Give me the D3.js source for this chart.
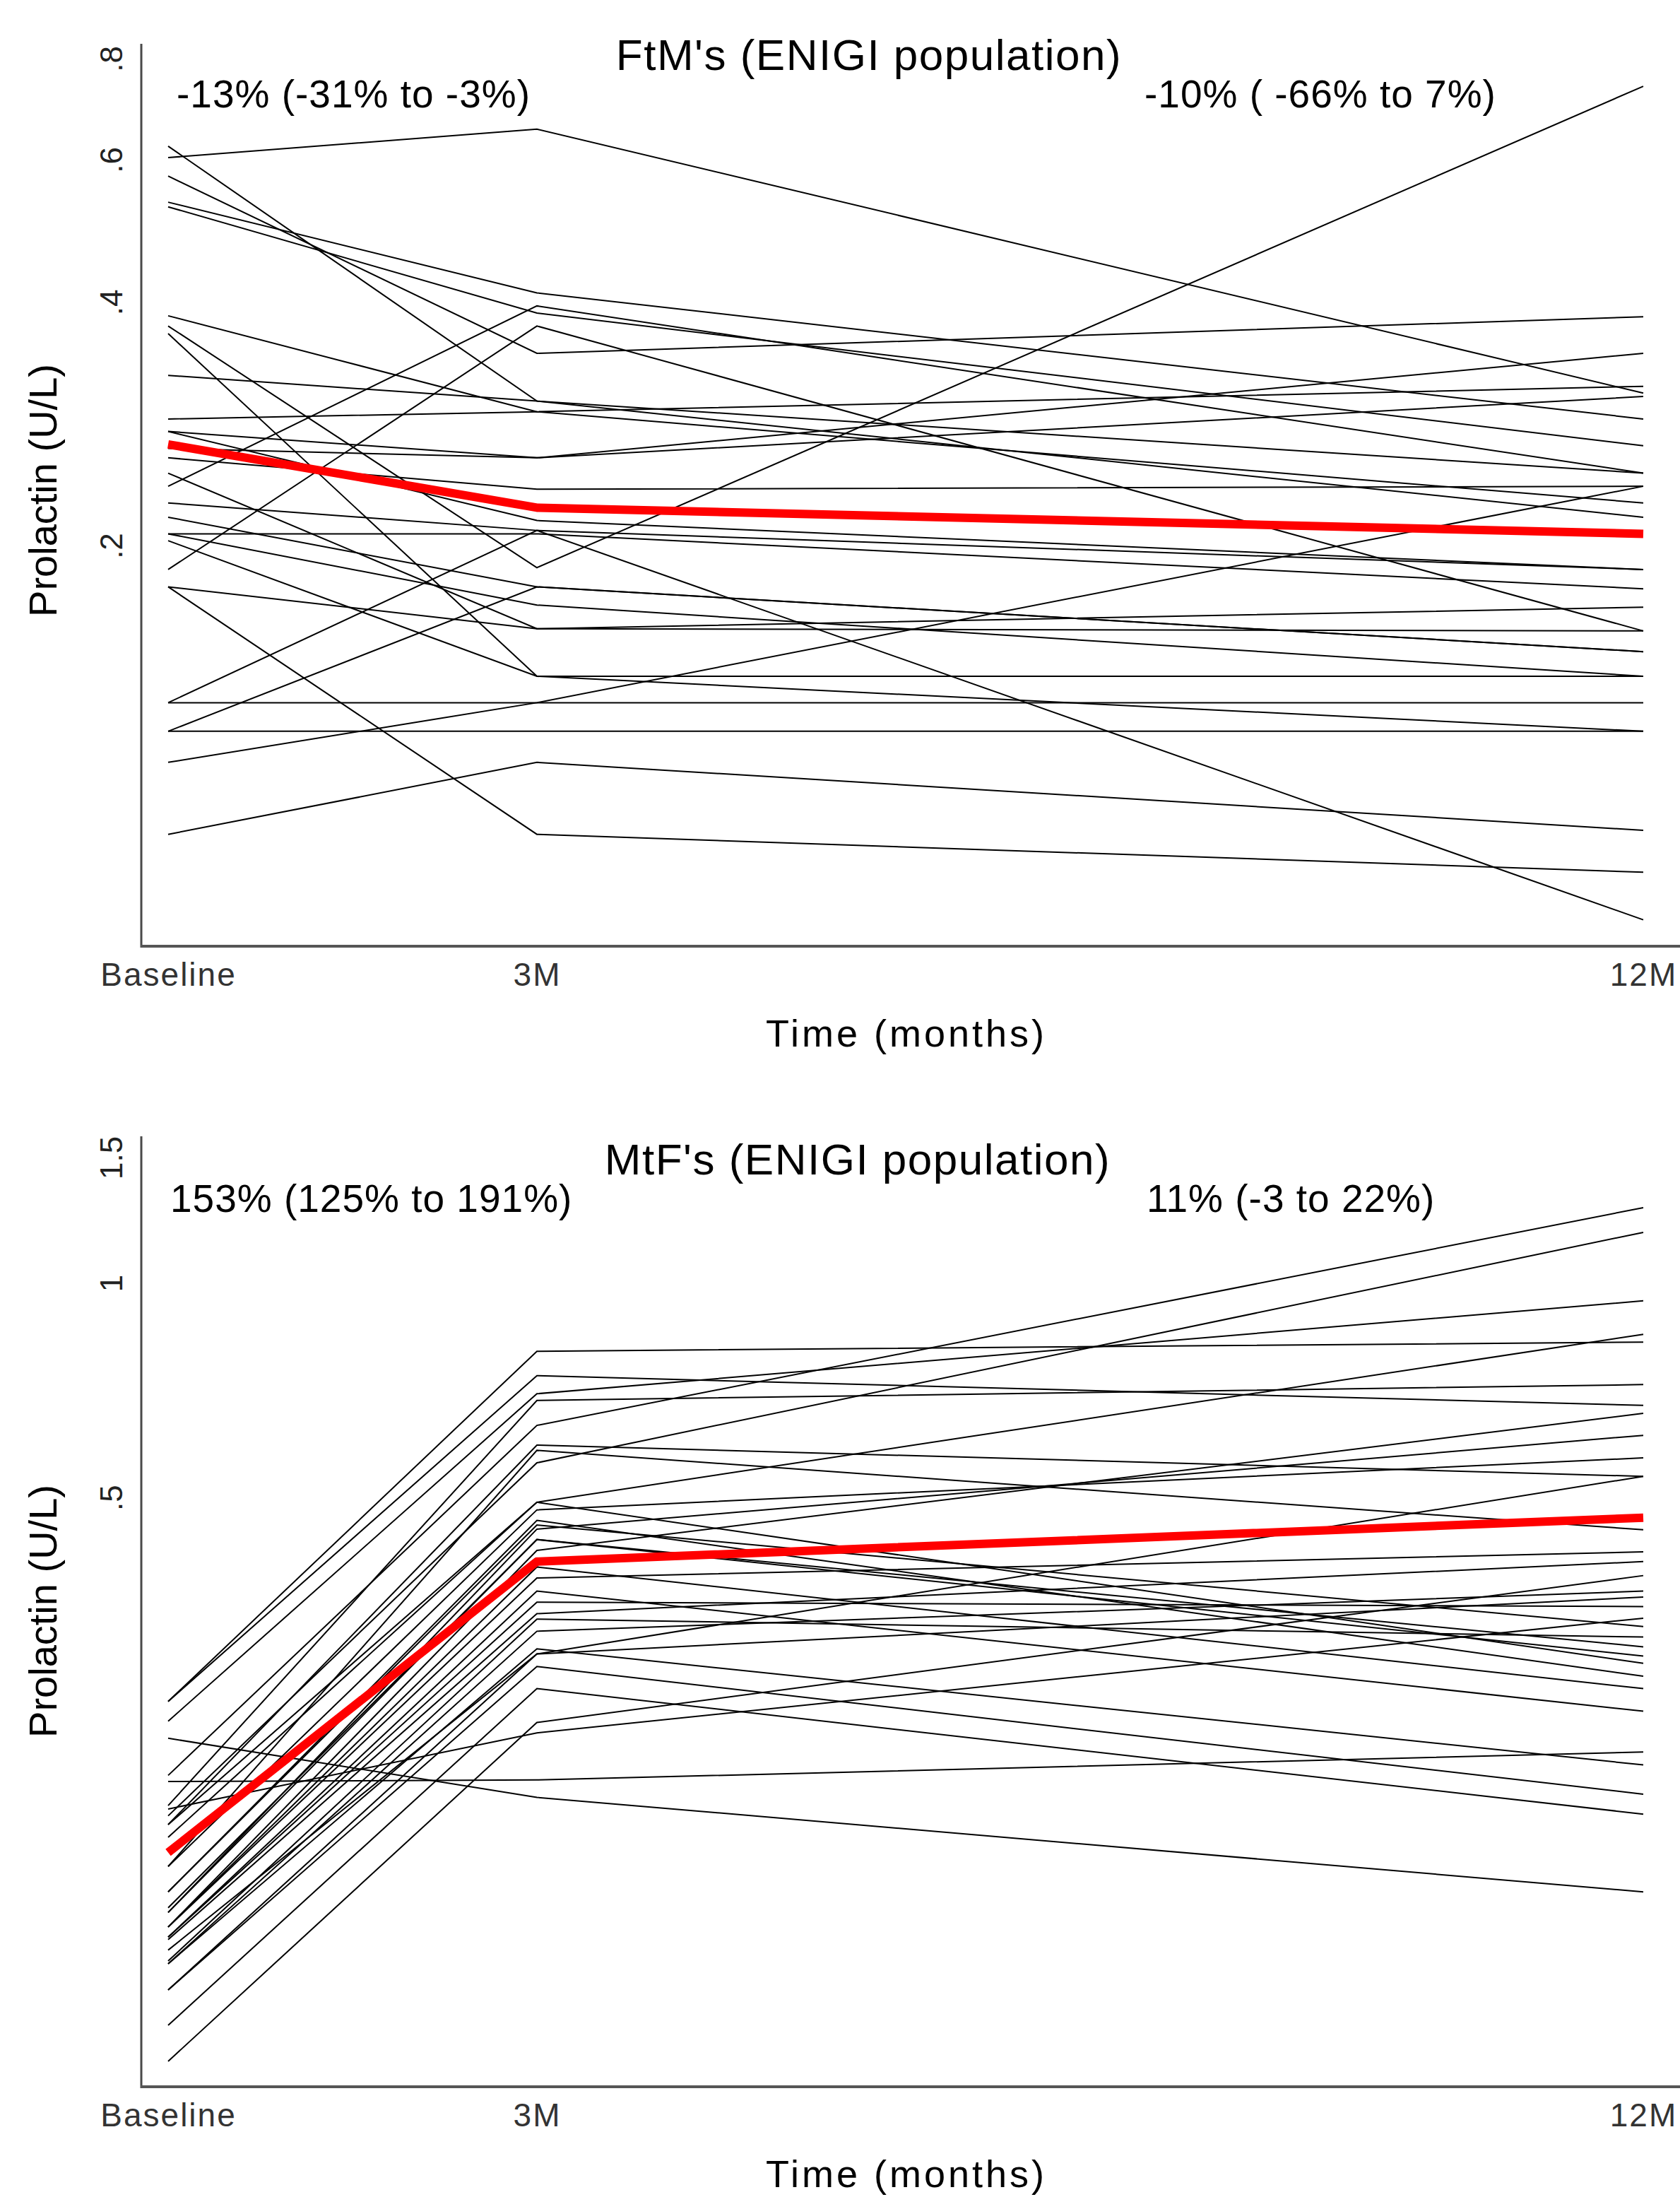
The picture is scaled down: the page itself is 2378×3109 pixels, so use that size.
<!DOCTYPE html>
<html>
<head>
<meta charset="utf-8">
<script src="https://cdn.jsdelivr.net/npm/d3@7"></script>
<style>
  body { margin: 0; background: #fff; }
  svg { display: block; font-family: "Liberation Sans", Arial, sans-serif; }
</style>
</head>
<body>
<svg id="chart" width="2378" height="3109"></svg>
<script>
// visit times (months) and their labels
var months = [0, 3, 12]
var xLabels = ["Baseline", "3M", "12M"]

// FtM's: prolactin per subject at baseline, 3M, 12M
var ftmBaseline = [0.604, 0.624, 0.573, 0.532, 0.525, 0.385, 0.374, 0.366, 0.325, 0.287, 0.277, 0.264, 0.257, 0.246, 0.237,
                   0.187, 0.226, 0.217, 0.207, 0.207, 0.203, 0.178, 0.178, 0.128, 0.128, 0.118, 0.118, 0.108, 0.088, 0.277]
var ftm3M       = [0.655, 0.302, 0.346, 0.411, 0.388, 0.293, 0.188, 0.138, 0.302, 0.293, 0.215, 0.257, 0.235, 0.158, 0.396,
                   0.374, 0.209, 0.178, 0.207, 0.169, 0.138, 0.088, 0.158, 0.209, 0.128, 0.178, 0.118, 0.128, 0.108, 0.257]
var ftm12M      = [0.309, 0.217, 0.384, 0.287, 0.266, 0.226, 0.740, 0.138, 0.246, 0.315, 0.187, 0.306, 0.237, 0.157, 0.246,
                   0.157, 0.069, 0.148, 0.177, 0.138, 0.118, 0.079, 0.168, 0.187, 0.128, 0.148, 0.118, 0.237, 0.089, 0.346]
var ftmMean = [0.267, 0.223, 0.207]
var ftmTicks = [0.2, 0.4, 0.6, 0.8]

// MtF's
var mtfBaseline = [0.259, 0.259, 0.243, 0.230, 0.204, 0.200, 0.185, 0.179, 0.174, 0.174, 0.152, 0.152, 0.140, 0.140, 0.131, 0.131, 0.125,
                   0.125, 0.125, 0.121, 0.121, 0.120, 0.112, 0.111, 0.111, 0.102, 0.102, 0.091, 0.081, 0.183, 0.167, 0.133, 0.116]
var mtf3M       = [0.803, 0.742, 0.700, 0.190, 0.632, 0.201, 0.685, 0.560, 0.593, 0.493, 0.583, 0.481, 0.465, 0.458, 0.452, 0.437, 0.422,
                   0.400, 0.386, 0.370, 0.357, 0.344, 0.338, 0.325, 0.307, 0.302, 0.290, 0.270, 0.242, 0.234, 0.493, 0.437, 0.302]
var mtf12M      = [0.827, 0.674, 0.945, 0.140, 1.277, 0.220, 0.721, 1.179, 0.536, 0.293, 0.451, 0.569, 0.281, 0.330, 0.612, 0.300, 0.657,
                   0.270, 0.420, 0.251, 0.352, 0.407, 0.319, 0.370, 0.211, 0.536, 0.192, 0.180, 0.389, 0.339, 0.848, 0.309, 0.363]
var mtfMean = [0.159, 0.407, 0.469]
var mtfTicks = [0.5, 1, 1.5]

var svg = d3.select("#chart")
svg.append("rect").attr("width", 2378).attr("height", 3109).attr("fill", "#fff")

var x = d3.scaleLinear().domain([0, 12]).range([238, 2326])
var fmtTick = function(d){ return String(d).replace(/^0\./, ".") }

function drawPanel(opt) {
  var g = svg.append("g")
  var y = d3.scaleLog().domain(opt.domain).range([opt.bottom, opt.top])
  var line = d3.line().x(function(d){ return x(d[0]) }).y(function(d){ return y(d[1]) })

  var subjects = opt.base.map(function(b, i){
    return [[months[0], b], [months[1], opt.m3[i]], [months[2], opt.m12[i]]]
  })
  g.selectAll(".subj").data(subjects).enter().append("path")
    .attr("class", "subj")
    .attr("d", line)
    .attr("fill", "none")
    .attr("stroke", "#000")
    .attr("stroke-width", 2)

  g.append("path")
    .attr("d", line(months.map(function(m, i){ return [m, opt.mean[i]] })))
    .attr("fill", "none")
    .attr("stroke", "#ff0000")
    .attr("stroke-width", 12)
    .attr("stroke-linejoin", "round")

  // axes, no tick marks
  var yAxis = d3.axisLeft(y).tickValues(opt.ticks).tickFormat(fmtTick).tickSize(0).tickPadding(0)
  var ya = g.append("g").attr("transform", "translate(200,0)").call(yAxis)
  ya.select(".domain").remove()
  ya.selectAll("text")
    .attr("transform", function(d){ return "translate(-42," + y(d) + ") rotate(-90)" })
    .attr("x", 0).attr("y", 0).attr("dy", "0.35em")
    .attr("text-anchor", "middle")
    .style("font-size", "44px").style("fill", "#222")
    .style("font-family", "Liberation Sans, Arial, sans-serif")
  ya.selectAll(".tick").attr("transform", null)

  g.append("line").attr("x1", 200).attr("x2", 200).attr("y1", opt.top).attr("y2", opt.bottom + 2)
    .attr("stroke", "#4a4a4a").attr("stroke-width", 3)
  g.append("line").attr("x1", 199).attr("x2", 2378).attr("y1", opt.bottom).attr("y2", opt.bottom)
    .attr("stroke", "#555").attr("stroke-width", 4)

  var xAxis = d3.axisBottom(x).tickValues(months).tickFormat(function(d, i){ return xLabels[i] }).tickSize(0).tickPadding(0)
  var xa = g.append("g").attr("transform", "translate(0," + opt.bottom + ")").call(xAxis)
  xa.select(".domain").remove()
  xa.selectAll("text").attr("y", 56).attr("dy", 0)
    .style("font-size", "46px").style("letter-spacing", "2px").style("fill", "#333")
    .style("font-family", "Liberation Sans, Arial, sans-serif")

  g.append("text").attr("x", 1283).attr("y", opt.bottom + 142)
    .attr("text-anchor", "middle").style("font-size", "54px").style("letter-spacing", "4px")
    .text("Time (months)")
  g.append("text")
    .attr("transform", "translate(80," + opt.yTitle + ") rotate(-90)")
    .attr("text-anchor", "middle").style("font-size", "56px")
    .text("Prolactin (U/L)")

  g.append("text").attr("x", opt.titleX).attr("y", opt.titleY)
    .attr("text-anchor", "middle").style("font-size", "62px").style("letter-spacing", "1.5px")
    .text(opt.title)
  opt.notes.forEach(function(n){
    g.append("text").attr("x", n[0]).attr("y", opt.titleY + 53)
      .style("font-size", "55px").style("letter-spacing", "1px")
      .text(n[1])
  })
}

drawPanel({
  base: ftmBaseline, m3: ftm3M, m12: ftm12M, mean: ftmMean, ticks: ftmTicks,
  domain: [0.064, 0.835], top: 62, bottom: 1339, yTitle: 694,
  title: "FtM's (ENIGI population)", titleX: 1230, titleY: 99,
  notes: [[250, "-13% (-31% to -3%)"], [1620, "-10% ( -66% to 7%)"]]
})
drawPanel({
  base: mtfBaseline, m3: mtf3M, m12: mtf12M, mean: mtfMean, ticks: mtfTicks,
  domain: [0.0746, 1.608], top: 1608, bottom: 2953, yTitle: 2280,
  title: "MtF's (ENIGI population)", titleX: 1214, titleY: 1662,
  notes: [[241, "153% (125% to 191%)"], [1623, "11% (-3 to 22%)"]]
})
</script>
</body>
</html>
